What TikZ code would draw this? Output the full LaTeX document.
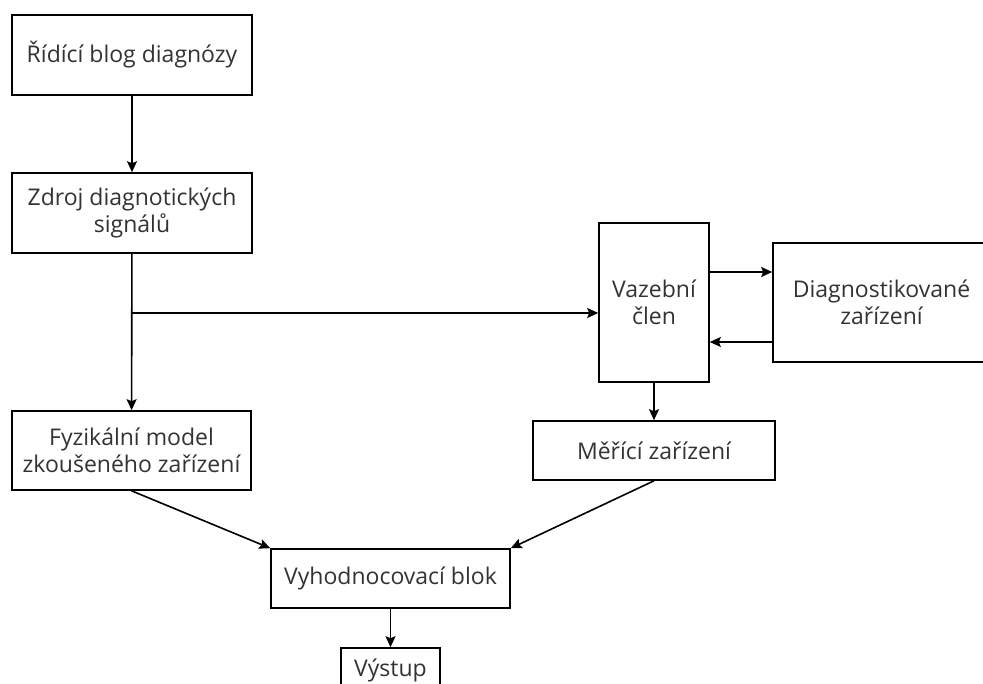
\documentclass[tikz,border=0pt]{standalone}
\usepackage{fontspec}
\setmainfont{Open Sans}
\usetikzlibrary{arrows.meta}
\definecolor{txt}{HTML}{333333}
\tikzset{
  blk/.style={draw=black, line width=1.6pt, fill=white, inner sep=0pt, align=center,
    text=txt, font=\fontsize{23}{27}\selectfont, anchor=center},
  arr/.style={draw=black, line width=1.6pt, -{Stealth[length=11pt,width=10pt,inset=2pt]}},
  ln/.style={draw=black, line width=1.6pt}
}
\begin{document}
\begin{tikzpicture}[x=1pt,y=-1pt]
\useasboundingbox (0,0) rectangle (983,684);
\node[blk, minimum width=240pt, minimum height=80pt] (b1) at (132,55) {Řídící blog diagnózy};
\node[blk, minimum width=240pt, minimum height=80pt] (b2) at (132,213) {Zdroj diagnotických\\signálů};
\node[blk, minimum width=239pt, minimum height=79pt] (b3) at (131.5,450.5) {Fyzikální model\\zkoušeného zařízení};
\node[blk, minimum width=110pt, minimum height=159pt] (vaz) at (654,302.5) {Vazební\\člen};
\node[blk, minimum width=217pt, minimum height=119pt] (diag) at (881.5,302.5) {Diagnostikované\\zařízení};
\node[blk, minimum width=242pt, minimum height=59pt] (mer) at (654,450.5) {Měřící zařízení};
\node[blk, minimum width=239pt, minimum height=59pt] (vyh) at (390.5,578.5) {Vyhodnocovací blok};
\node[blk, minimum width=99pt, minimum height=44pt] (vys) at (390.5,670) {Výstup};
\coordinate (j) at (132,313);
\draw[arr] (b1) -- (b2);
\draw[arr] (b2) -- (b3);
\draw[arr] (j) -- (j -| vaz.west);
\draw[arr] ([yshift=30.5pt]vaz.east) -- ([yshift=30.5pt]vaz.east -| diag.west);
\draw[arr] ([yshift=-39.5pt]diag.west) -- ([yshift=-39.5pt]diag.west -| vaz.east);
\draw[arr] (vaz) -- (mer);
\draw[arr] (b3.south) -- (vyh.north west);
\draw[arr] (mer.south) -- (vyh.north east);
\draw[arr] (vyh) -- (vys);
\end{tikzpicture}
\end{document}
